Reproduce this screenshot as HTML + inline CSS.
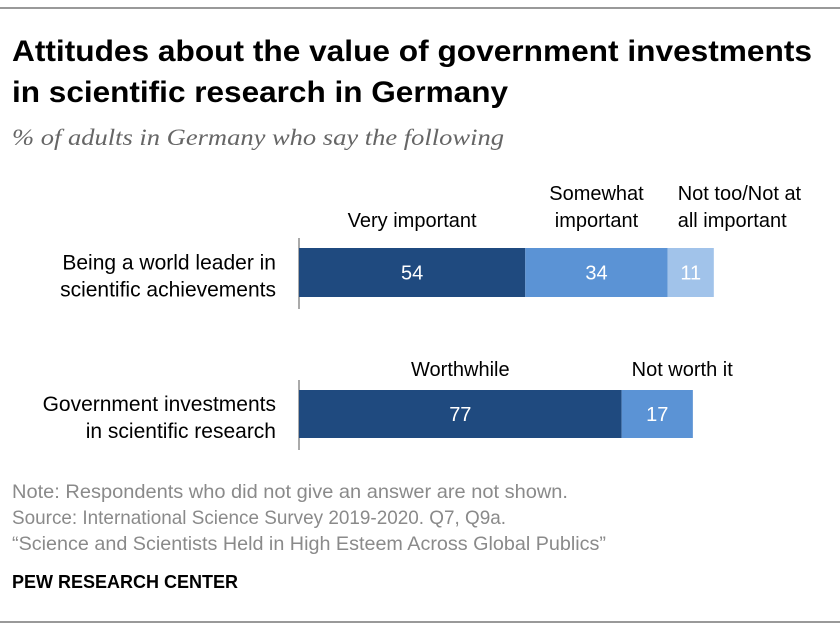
<!DOCTYPE html>
<html><head><meta charset="utf-8"><style>
body{margin:0;background:#fff;font-family:"Liberation Sans",sans-serif;}
#c{position:relative;width:840px;height:632px;overflow:hidden;}
</style></head><body>
<div id="c">
<svg width="840" height="632">
<line x1="0" y1="8" x2="840" y2="8" stroke="#333" stroke-width="1"/>
<text x="12" y="61" font-size="30" font-weight="bold" fill="#000" textLength="800" lengthAdjust="spacingAndGlyphs">Attitudes about the value of government investments</text>
<text x="12" y="102" font-size="30" font-weight="bold" fill="#000" textLength="496" lengthAdjust="spacingAndGlyphs">in scientific research in Germany</text>
<text x="12" y="145" font-size="23" font-style="italic" font-family="Liberation Serif,serif" fill="#666" textLength="492" lengthAdjust="spacingAndGlyphs">% of adults in Germany who say the following</text>
<g id="bars"></g>
<text x="12" y="498" font-size="19.5" fill="#8a8a8a" textLength="556" lengthAdjust="spacingAndGlyphs">Note: Respondents who did not give an answer are not shown.</text>
<text x="12" y="524" font-size="19.5" fill="#8a8a8a" textLength="494" lengthAdjust="spacingAndGlyphs">Source: International Science Survey 2019-2020. Q7, Q9a.</text>
<text x="12" y="550" font-size="19.5" fill="#8a8a8a" textLength="594" lengthAdjust="spacingAndGlyphs">“Science and Scientists Held in High Esteem Across Global Publics”</text>
<text x="12" y="588" font-size="18" font-weight="bold" fill="#000" textLength="226" lengthAdjust="spacingAndGlyphs">PEW RESEARCH CENTER</text>
<line x1="0" y1="622" x2="840" y2="622" stroke="#333" stroke-width="1"/>
</svg>
</div>
<script>
const rowLabels=[["Being a world leader in","scientific achievements"],["Government investments","in scientific research"]];
const row1Values=[54,34,11];
const row2Values=[77,17];
const row1Names=[["Very important"],["Somewhat","important"],["Not too/Not at","all important"]];
const row2Names=[["Worthwhile"],["Not worth it"]];
const colors=["#1f4a7f","#5b93d5","#a1c3ea"];
const x0=299,k=4.19;
const xs=v=>x0+v*k;
const g=document.getElementById('bars');
const NS="http://www.w3.org/2000/svg";
function mk(t,a,txt){const e=document.createElementNS(NS,t);for(const q in a)e.setAttribute(q,a[q]);if(txt!=null)e.textContent=txt;g.appendChild(e);return e;}
function row(vals,names,labels,y,h,idx,legOff){
  const ax=mk('line',{x1:x0,y1:y-10,x2:x0,y2:y+h+12,stroke:'#555','stroke-width':1});
  
  
  labels.forEach((l,i)=>{const t=mk('text',{x:276,y:y+h/2-3+i*27,'font-size':21,'text-anchor':'end',fill:'#000'},l);
    
    });
  let cum=0;
  vals.forEach((v,i)=>{
    const r=mk('rect',{x:xs(cum),y:y,width:xs(cum+v)-xs(cum),height:h,fill:colors[i]});
    
    
    const cx=(xs(cum)+xs(cum+v))/2;
    const t=mk('text',{x:cx,y:y+h/2+7,'font-size':20,'text-anchor':'middle',fill:'#fff'},v);
    
    
    const n=names[i];
    const last=i===vals.length-1;
    n.forEach((s,j)=>{const tt=mk('text',{x:last?xs(cum)+10:cx,y:y-legOff-(n.length-1-j)*27,'font-size':20,'text-anchor':last?'start':'middle',fill:'#000'},s);
      
      });
    cum+=v;
  });
}
row(row1Values,row1Names,rowLabels[0],248,49,1,21);
row(row2Values,row2Names,rowLabels[1],390,48,2,14);
</script>
</body></html>
